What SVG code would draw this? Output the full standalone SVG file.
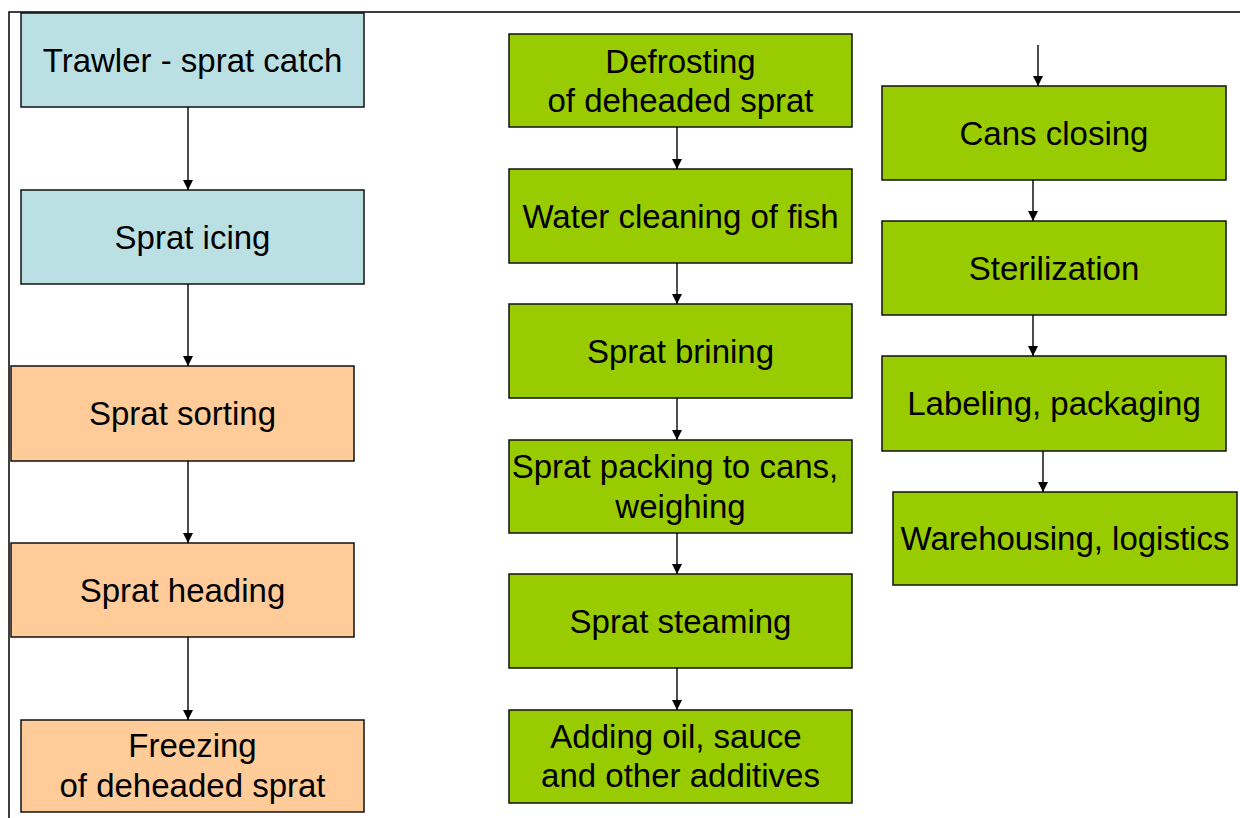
<svg xmlns="http://www.w3.org/2000/svg" width="1240" height="818" viewBox="0 0 1240 818">
<defs>
<marker id="ah" viewBox="0 0 10 10" refX="10" refY="5" markerWidth="11" markerHeight="10" markerUnits="userSpaceOnUse" orient="auto">
<path d="M0,0 L10,5 L0,10 z" fill="#000"/>
</marker>
<style>
.box{stroke:#111;stroke-width:1.5}
.blue{fill:#BAE0E3}
.orange{fill:#FFCC99}
.green{fill:#99CC00}
.t{font-family:"Liberation Sans",Arial,sans-serif;font-size:33px;fill:#000;text-anchor:middle}
.c{stroke:#000;stroke-width:1.4;fill:none;marker-end:url(#ah)}
.frame{stroke:#000;stroke-width:1.5;fill:none}
</style>
</defs>
<rect width="1240" height="818" fill="#fff"/>
<path class="frame" d="M9,818 L9,12 L1240,12"/>

<g id="trawler"><rect class="box blue" x="21" y="13" width="343" height="94"/><text class="t" x="192.5" y="72">Trawler - sprat catch</text></g>
<g id="icing"><rect class="box blue" x="21" y="190" width="343" height="94"/><text class="t" x="192.5" y="249">Sprat icing</text></g>
<g id="sorting"><rect class="box orange" x="11" y="366" width="343" height="95"/><text class="t" x="182.5" y="425">Sprat sorting</text></g>
<g id="heading"><rect class="box orange" x="11" y="543" width="343" height="94"/><text class="t" x="182.5" y="602">Sprat heading</text></g>
<g id="freezing"><rect class="box orange" x="21" y="720" width="343" height="92"/><text class="t" x="192.5" y="757">Freezing</text><text class="t" x="192.5" y="797">of deheaded sprat</text></g>

<g id="defrosting"><rect class="box green" x="509" y="34" width="343" height="93"/><text class="t" x="680.5" y="73">Defrosting</text><text class="t" x="680.5" y="112">of deheaded sprat</text></g>
<g id="water"><rect class="box green" x="509" y="169" width="343" height="94"/><text class="t" x="680.5" y="228">Water cleaning of fish</text></g>
<g id="brining"><rect class="box green" x="509" y="304" width="343" height="94"/><text class="t" x="680.5" y="363">Sprat brining</text></g>
<g id="packing"><rect class="box green" x="509" y="440" width="343" height="93"/><text class="t" x="675" y="478">Sprat packing to cans,</text><text class="t" x="680.5" y="518">weighing</text></g>
<g id="steaming"><rect class="box green" x="509" y="574" width="343" height="94"/><text class="t" x="680.5" y="633">Sprat steaming</text></g>
<g id="adding"><rect class="box green" x="509" y="710" width="343" height="93"/><text class="t" x="676" y="748">Adding oil, sauce</text><text class="t" x="680.5" y="787">and other additives</text></g>

<g id="closing"><rect class="box green" x="882" y="86" width="344" height="94"/><text class="t" x="1054" y="145">Cans closing</text></g>
<g id="sterilization"><rect class="box green" x="882" y="221" width="344" height="94"/><text class="t" x="1054" y="280">Sterilization</text></g>
<g id="labeling"><rect class="box green" x="882" y="356" width="344" height="95"/><text class="t" x="1054" y="415">Labeling, packaging</text></g>
<g id="warehousing"><rect class="box green" x="893" y="492" width="344" height="93"/><text class="t" x="1065" y="550">Warehousing, logistics</text></g>

<g id="connectors">
<line class="c" x1="188" y1="107" x2="188" y2="190"/>
<line class="c" x1="188" y1="284" x2="188" y2="366"/>
<line class="c" x1="188" y1="461" x2="188" y2="543"/>
<line class="c" x1="188" y1="637" x2="188" y2="720"/>
<line class="c" x1="677" y1="127" x2="677" y2="169"/>
<line class="c" x1="677" y1="263" x2="677" y2="304"/>
<line class="c" x1="677" y1="398" x2="677" y2="440"/>
<line class="c" x1="677" y1="533" x2="677" y2="574"/>
<line class="c" x1="677" y1="668" x2="677" y2="710"/>
<line class="c" x1="1038" y1="45" x2="1038" y2="86"/>
<line class="c" x1="1033" y1="180" x2="1033" y2="221"/>
<line class="c" x1="1033" y1="315" x2="1033" y2="356"/>
<line class="c" x1="1043" y1="451" x2="1043" y2="492"/>
</g>
</svg>
